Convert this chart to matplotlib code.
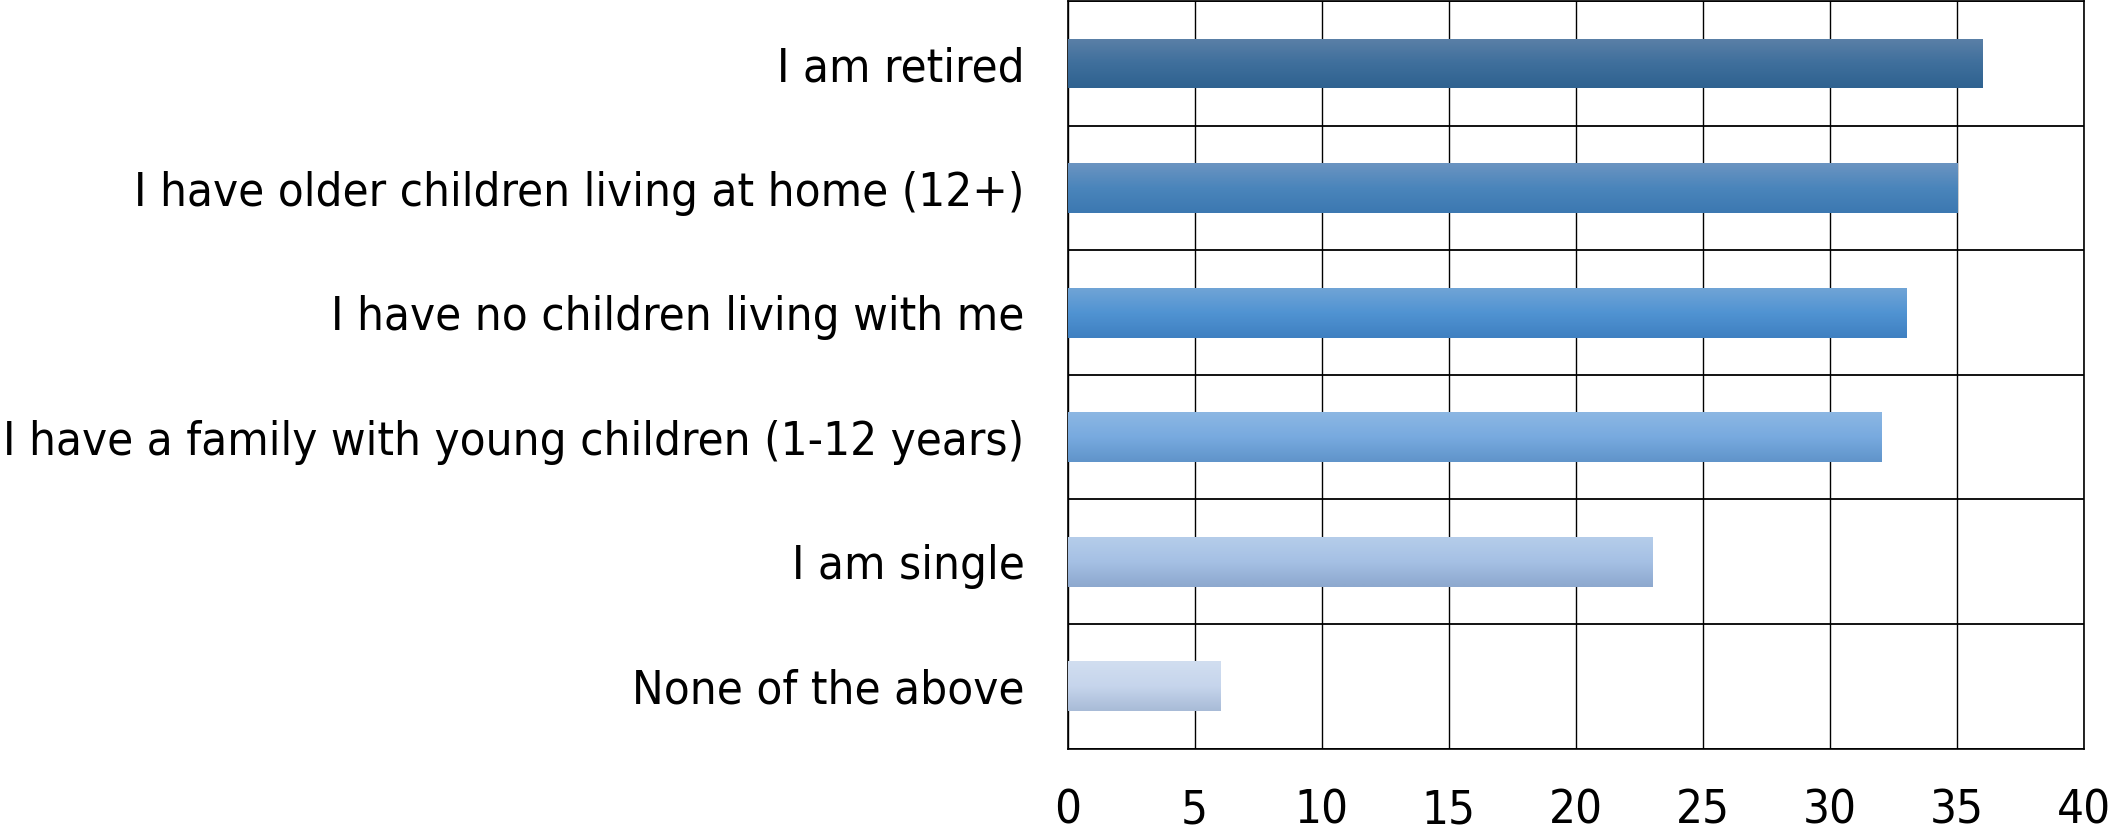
import matplotlib
matplotlib.use("Agg")
import matplotlib.pyplot as plt
import numpy as np
from matplotlib.colors import to_rgb

categories = [
    "I am retired",
    "I have older children living at home (12+)",
    "I have no children living with me",
    "I have a family with young children (1-12 years)",
    "I am single",
    "None of the above",
]
values = [36, 35, 33, 32, 23, 6]
x_ticks = [0, 5, 10, 15, 20, 25, 30, 35, 40]

# gradient stops (top, middle, bottom) per bar
bar_gradients = [
    ("#5b80a7", "#3f6f9c", "#2f6290"),
    ("#6b94c1", "#4a85bb", "#3c78b1"),
    ("#70a4d6", "#5093d2", "#3f80c1"),
    ("#8cb7e3", "#78aadf", "#6094ca"),
    ("#b5cdea", "#a5c0e4", "#8da8ce"),
    ("#d1def0", "#c6d5ec", "#a8bbd7"),
]

plt.rcParams['font.family'] = ['DejaVu Sans']
plt.rcParams['font.stretch'] = 'condensed'

fig = plt.figure(figsize=(21.11, 8.35), dpi=100)
ax = fig.add_axes([0.5057, 0.1035, 0.9872 - 0.5057, 0.9985 - 0.1035])

y = np.arange(len(categories))
bars = ax.barh(y, values, height=0.40, color="none", edgecolor="none", zorder=3)

ax.set_xlim(0, 40)
ax.set_ylim(len(categories) - 0.5, -0.5)

for patch, stops in zip(bars.patches, bar_gradients):
    x0, y0 = patch.get_x(), patch.get_y()
    w, h = patch.get_width(), patch.get_height()
    cols = np.array([to_rgb(c) for c in stops])
    t = np.linspace(0, 1, 64)
    grad = np.zeros((64, 1, 3))
    for k in range(3):
        grad[:, 0, k] = np.interp(t, [0, 0.5, 1], cols[:, k])
    im = ax.imshow(grad, extent=[x0, x0 + w, y0 + h, y0], origin="upper",
                   aspect="auto", interpolation="bilinear", zorder=3)
    im.set_clip_path(patch)

ax.set_xlim(0, 40)
ax.set_ylim(len(categories) - 0.5, -0.5)

ax.set_xticks(x_ticks)
ax.set_xticklabels([str(v) for v in x_ticks])
ax.set_yticks(y)
ax.set_yticklabels(categories)
ax.set_yticks(np.arange(len(categories) + 1) - 0.5, minor=True)
ax.grid(True, axis="x", which="major", color="black", linewidth=1.0, zorder=1)
ax.grid(True, axis="y", which="minor", color="black", linewidth=1.3, zorder=1)
ax.grid(False, axis="y", which="major")

for s in ax.spines.values():
    s.set_color("black")
    s.set_linewidth(1.2)

ax.tick_params(axis="both", which="both", length=0)
ax.tick_params(axis="x", labelsize=34, pad=29)
ax.tick_params(axis="y", labelsize=34, pad=31)
for lab in ax.get_xticklabels() + ax.get_yticklabels():
    lab.set_fontstretch('condensed')

fig.savefig("out.png", dpi=100, facecolor="white")
